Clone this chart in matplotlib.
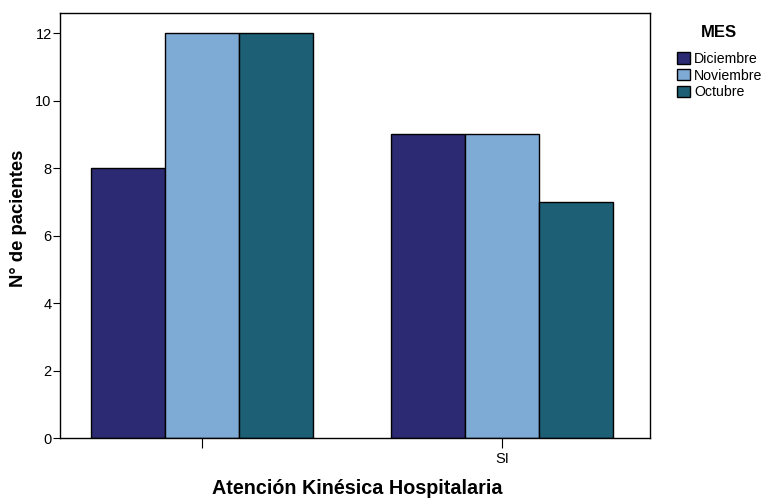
import matplotlib
matplotlib.use("Agg")
import matplotlib.pyplot as plt
import numpy as np
from matplotlib.patches import Patch

plt.rcParams['font.family'] = ['Liberation Sans', 'DejaVu Sans']

categories = ["", "SI"]
series = ["Diciembre", "Noviembre", "Octubre"]
values = {
    "Diciembre": [8, 9],
    "Noviembre": [12, 9],
    "Octubre": [12, 7],
}
colors = {"Diciembre": "#2b2a73", "Noviembre": "#7eaad6", "Octubre": "#1d5f74"}

W, H = 764, 499
fig = plt.figure(figsize=(W/100, H/100), dpi=100)
ax = fig.add_axes([60/W, 61/H, 590/W, 425/H])

x = np.arange(len(categories))
w = 0.247
for i, s in enumerate(series):
    ax.bar(x + (i - 1) * w, values[s], width=w, color=colors[s],
           edgecolor="black", linewidth=1.0, label=s, zorder=2)

ax.set_xlim(-0.473, 1.493)
ax.set_ylim(0, 12.6)
ax.set_yticks([0, 2, 4, 6, 8, 10, 12])
ax.set_xticks(x)
ax.set_xticklabels(categories)
ax.tick_params(axis='y', direction='out', length=5, labelsize=10.5, pad=1)
ax.tick_params(axis='x', direction='out', length=7, labelsize=10.5, pad=3)
for sp in ax.spines.values():
    sp.set_linewidth(1.0)

ax.set_ylabel("N° de pacientes", fontsize=13.3, fontweight='bold')
ax.yaxis.label.set_va('center')
ax.yaxis.set_label_coords((19 - 60) / 590, (438 - 218) / 425)
ax.set_xlabel("Atención Kinésica Hospitalaria", fontsize=14.2, fontweight='bold')
ax.xaxis.label.set_va('center')
ax.xaxis.set_label_coords((357 - 60) / 590, (438 - 488) / 425)

fig.text(719/W, 1 - 32.5/H, "MES", fontsize=12, fontweight='bold',
         ha='center', va='center')
handles = [Patch(facecolor=colors[s], edgecolor="black", label=s) for s in series]
leg = fig.legend(handles=handles, loc="upper left",
                 bbox_to_anchor=(677/W, 1 - 52/H), frameon=False,
                 fontsize=10.2, borderpad=0,
                 handlelength=0.9, handleheight=0.85, handletextpad=0.3,
                 labelspacing=0.18, borderaxespad=0)

fig.savefig("out.png", dpi=100)
